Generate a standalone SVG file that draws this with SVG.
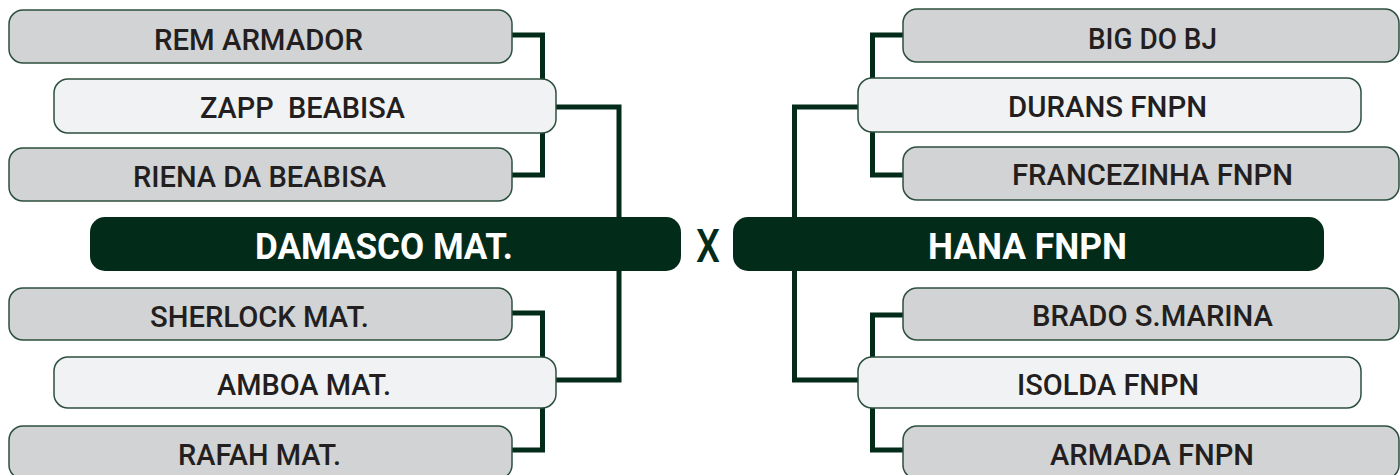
<svg xmlns="http://www.w3.org/2000/svg" width="1400" height="475" viewBox="0 0 1400 475">
<style>
.g{fill:#d1d3d4;stroke:#2c4f3e;stroke-width:1.5}
.l{fill:#f1f2f3;stroke:#2c4f3e;stroke-width:1.5}
.d{fill:#032b1a}
.t{font-family:Roboto,"Liberation Sans",sans-serif;font-weight:500;font-size:30px;fill:#231f20;text-anchor:middle;white-space:pre}
.w{font-family:Roboto,"Liberation Sans",sans-serif;font-weight:700;font-size:37px;fill:#ffffff;text-anchor:middle}
.c{fill:none;stroke:#032b1a;stroke-width:5;stroke-linejoin:miter}
</style>
<rect width="1400" height="475" fill="#ffffff"/>
<g id="connectors">
<path class="c" d="M512,35 H542.5 V175 H512"/>
<path class="c" d="M556,107 H619 V380 H556"/>
<path class="c" d="M512,313 H542.5 V450 H512"/>
<path class="c" d="M903,35 H872.5 V175 H903"/>
<path class="c" d="M858,107 H794.5 V380 H858"/>
<path class="c" d="M903,315 H872.5 V450 H903"/>
</g>
<g id="rem"><rect class="g" x="9" y="10" width="503" height="53" rx="14"/><text class="t" x="258.5" y="50" textLength="209" lengthAdjust="spacingAndGlyphs">REM ARMADOR</text></g>
<g id="zapp"><rect class="l" x="54" y="79" width="502" height="54" rx="14"/><text class="t" x="302.5" y="118" textLength="205" lengthAdjust="spacingAndGlyphs">ZAPP  BEABISA</text></g>
<g id="riena"><rect class="g" x="9" y="148" width="503" height="53" rx="14"/><text class="t" x="259.5" y="187" textLength="253" lengthAdjust="spacingAndGlyphs">RIENA DA BEABISA</text></g>
<g id="damasco"><rect class="d" x="90" y="217" width="591" height="54" rx="15"/><text class="w" x="384" y="259" textLength="258" lengthAdjust="spacingAndGlyphs">DAMASCO MAT.</text></g>
<g id="sherlock"><rect class="g" x="9" y="288" width="503" height="52" rx="14"/><text class="t" x="259.5" y="327" textLength="219" lengthAdjust="spacingAndGlyphs">SHERLOCK MAT.</text></g>
<g id="amboa"><rect class="l" x="54" y="357" width="502" height="51" rx="14"/><text class="t" x="304" y="395" textLength="174" lengthAdjust="spacingAndGlyphs">AMBOA MAT.</text></g>
<g id="rafah"><rect class="g" x="9" y="426" width="503" height="53" rx="14"/><text class="t" x="259.5" y="465" textLength="163" lengthAdjust="spacingAndGlyphs">RAFAH MAT.</text></g>
<g id="versus"><text x="708" y="262" font-family="Roboto,'Liberation Sans',sans-serif" font-weight="500" font-size="47" fill="#032b1a" text-anchor="middle" textLength="24" lengthAdjust="spacingAndGlyphs">X</text></g>
<g id="big"><rect class="g" x="903" y="9" width="496" height="53" rx="14"/><text class="t" x="1152.5" y="49" textLength="129" lengthAdjust="spacingAndGlyphs">BIG DO BJ</text></g>
<g id="durans"><rect class="l" x="858" y="78" width="503" height="54" rx="14"/><text class="t" x="1107.5" y="117" textLength="199" lengthAdjust="spacingAndGlyphs">DURANS FNPN</text></g>
<g id="francezinha"><rect class="g" x="903" y="147" width="496" height="53" rx="14"/><text class="t" x="1152.5" y="185" textLength="281" lengthAdjust="spacingAndGlyphs">FRANCEZINHA FNPN</text></g>
<g id="hana"><rect class="d" x="733" y="217" width="591" height="54" rx="15"/><text class="w" x="1027.5" y="259" textLength="199" lengthAdjust="spacingAndGlyphs">HANA FNPN</text></g>
<g id="brado"><rect class="g" x="903" y="288" width="496" height="52" rx="14"/><text class="t" x="1152.5" y="326" textLength="241" lengthAdjust="spacingAndGlyphs">BRADO S.MARINA</text></g>
<g id="isolda"><rect class="l" x="858" y="357" width="503" height="51" rx="14"/><text class="t" x="1108" y="395" textLength="182" lengthAdjust="spacingAndGlyphs">ISOLDA FNPN</text></g>
<g id="armada"><rect class="g" x="903" y="426" width="496" height="53" rx="14"/><text class="t" x="1152" y="465" textLength="204" lengthAdjust="spacingAndGlyphs">ARMADA FNPN</text></g>
</svg>
